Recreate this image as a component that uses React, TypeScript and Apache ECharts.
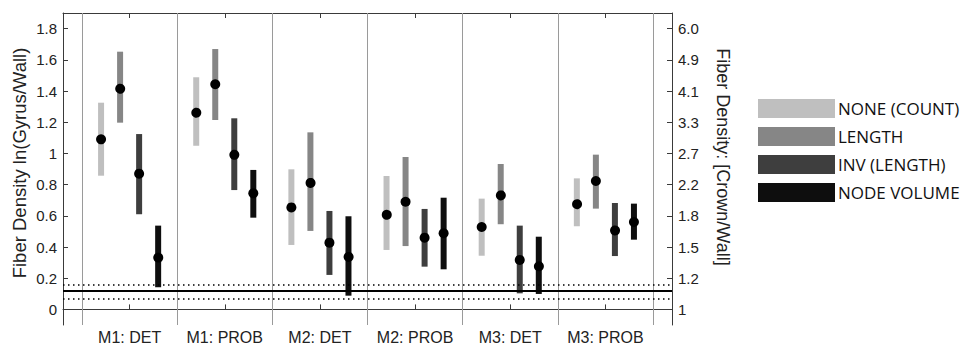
import React, { useEffect, useRef } from "react";
import * as echarts from "echarts";

const categories = ["M1: DET", "M1: PROB", "M2: DET", "M2: PROB", "M3: DET", "M3: PROB"];
const methods = ["NONE (COUNT)", "LENGTH", "INV (LENGTH)", "NODE VOLUME"];
const methodColors = ["#bfbfbf", "#868686", "#3e3e3e", "#0e0e0e"];
const methodOffsets = [-0.3, -0.1, 0.1, 0.3];

const meanNone = [1.09, 1.267, 0.654, 0.616, 0.528, 0.684];
const meanLength = [1.421, 1.443, 0.819, 0.69, 0.738, 0.823];
const meanInv = [0.87, 0.996, 0.428, 0.46, 0.317, 0.513];
const meanNode = [0.338, 0.744, 0.344, 0.488, 0.283, 0.56];

const lowNone = [0.857, 1.049, 0.413, 0.381, 0.344, 0.533];
const lowLength = [1.197, 1.214, 0.503, 0.406, 0.546, 0.646];
const lowInv = [0.61, 0.765, 0.221, 0.274, 0.103, 0.342];
const lowNode = [0.142, 0.588, 0.088, 0.257, 0.099, 0.447];

const highNone = [1.325, 1.488, 0.898, 0.855, 0.71, 0.84];
const highLength = [1.652, 1.669, 1.135, 0.977, 0.932, 0.992];
const highInv = [1.124, 1.225, 0.631, 0.644, 0.537, 0.682];
const highNode = [0.537, 0.894, 0.597, 0.716, 0.466, 0.678];

const leftTicks = [0, 0.2, 0.4, 0.6, 0.8, 1, 1.2, 1.4, 1.6, 1.8];
const rightTickLabels = ["1", "1.2", "1.5", "1.8", "2.2", "2.7", "3.3", "4.1", "4.9", "6.0"];
const xTicks = [1, 2, 3, 4, 5, 6];
const separators = [0.5, 1.5, 2.5, 3.5, 4.5, 5.5, 6.5];

const baseline = 0.117;
const ciLow = 0.068;
const ciHigh = 0.162;

const means = [meanNone, meanLength, meanInv, meanNode];
const lows = [lowNone, lowLength, lowInv, lowNode];
const highs = [highNone, highLength, highInv, highNode];

const FONT = "'Liberation Sans', Arial, Helvetica, sans-serif";
const FRAME = "#3a3a3a";

export default function App() {
  const ref = useRef<HTMLDivElement>(null);

  useEffect(() => {
    if (!ref.current) return;
    const chart = echarts.init(ref.current, null, { renderer: "svg" });

    const errorSeries = methods.map((name, mi) => ({
      name,
      type: "custom",
      z: 3,
      itemStyle: { color: methodColors[mi] },
      encode: { x: 0, y: 1 },
      data: categories.map((_, ci) => [ci + 1, means[mi][ci], lows[mi][ci], highs[mi][ci]]),
      renderItem: (params: any, api: any) => {
        const xv = api.value(0) + methodOffsets[mi];
        const pMean = api.coord([xv, api.value(1)]);
        const pLow = api.coord([xv, api.value(2)]);
        const pHigh = api.coord([xv, api.value(3)]);
        const w = 6;
        return {
          type: "group",
          children: [
            {
              type: "rect",
              shape: { x: pLow[0] - w / 2, y: pHigh[1], width: w, height: pLow[1] - pHigh[1] },
              style: { fill: methodColors[mi] },
            },
            {
              type: "circle",
              shape: { cx: pMean[0], cy: pMean[1], r: 5 },
              style: { fill: "#000" },
            },
          ],
        };
      },
    }));

    const option: any = {
      animation: false,
      backgroundColor: "#fff",
      grid: { left: 63, right: 295, top: 13, bottom: 20, containLabel: false },
      legend: {
        orient: "vertical",
        left: 758,
        top: 99,
        padding: 0,
        itemWidth: 77,
        itemHeight: 19,
        itemGap: 9,
        itemStyle: { borderWidth: 0 },
        selectedMode: false,
        textStyle: { fontFamily: "'Open Sans', sans-serif", fontSize: 17, color: "#111", padding: [0, 0, 4, -2] },
        data: methods.map((name) => ({ name, icon: "rect" })),
      },
      graphic: [
        {
          type: "text",
          x: 19,
          y: 163,
          rotation: Math.PI / 2,
          style: {
            text: "Fiber Density ln(Gyrus/Wall)",
            font: `18.5px ${FONT}`,
            fill: "#222",
            textAlign: "center",
            textVerticalAlign: "middle",
          },
        },
        {
          type: "text",
          x: 723,
          y: 157,
          rotation: -Math.PI / 2,
          style: {
            text: "Fiber Density: [Crown/Wall]",
            font: `18px ${FONT}`,
            fill: "#222",
            textAlign: "center",
            textVerticalAlign: "middle",
          },
        },
      ],
      xAxis: [
        {
          type: "value",
          position: "bottom",
          min: 0.3,
          max: 6.7,
          axisLine: { show: true, lineStyle: { color: FRAME, width: 1 } },
          axisTick: { show: true, inside: true, length: 5, customValues: xTicks, lineStyle: { color: FRAME } },
          axisLabel: {
            show: true,
            customValues: xTicks,
            formatter: (v: number) => categories[Math.round(v) - 1] ?? "",
            fontFamily: FONT,
            fontSize: 16,
            color: "#222",
            margin: 4,
          },
          splitLine: { show: false },
        },
        {
          type: "value",
          position: "top",
          min: 0.3,
          max: 6.7,
          axisLine: { show: true, onZero: false, lineStyle: { color: FRAME, width: 1 } },
          axisTick: { show: true, inside: true, length: 5, customValues: xTicks, lineStyle: { color: FRAME } },
          axisLabel: { show: false },
          splitLine: { show: false },
        },
      ],
      yAxis: [
        {
          type: "value",
          position: "left",
          min: -0.1,
          max: 1.9,
          axisLine: { show: true, onZero: false, lineStyle: { color: FRAME, width: 1 } },
          axisTick: { show: true, inside: true, length: 5, customValues: leftTicks, lineStyle: { color: FRAME } },
          axisLabel: {
            show: true,
            customValues: leftTicks,
            fontFamily: FONT,
            fontSize: 15,
            color: "#222",
            margin: 6,
          },
          splitLine: { show: false },
        },
        {
          type: "value",
          position: "right",
          min: -0.1,
          max: 1.9,
          axisLine: { show: true, onZero: false, lineStyle: { color: FRAME, width: 1 } },
          axisTick: { show: true, inside: true, length: 5, customValues: leftTicks, lineStyle: { color: FRAME } },
          axisLabel: {
            show: true,
            customValues: leftTicks,
            formatter: (v: number) => rightTickLabels[Math.round(v / 0.2)] ?? "",
            fontFamily: FONT,
            fontSize: 15,
            color: "#222",
            margin: 6,
          },
          splitLine: { show: false },
        },
      ],
      series: [
        {
          name: "__lines",
          type: "line",
          data: [],
          z: 1,
          silent: true,
          markLine: {
            silent: true,
            symbol: ["none", "none"],
            label: { show: false },
            animation: false,
            data: [
              ...separators.map((x) => ({ xAxis: x, lineStyle: { color: "#9a9a9a", width: 1, type: "solid" } })),
              { yAxis: baseline, lineStyle: { color: "#000", width: 2.2, type: "solid" } },
              { yAxis: ciLow, lineStyle: { color: "#000", width: 1.5, type: [1.5, 3.5] } },
              { yAxis: ciHigh, lineStyle: { color: "#000", width: 1.5, type: [1.5, 3.5] } },
            ],
          },
        },
        ...errorSeries,
      ],
    };

    chart.setOption(option);
    return () => chart.dispose();
  }, []);

  return <div ref={ref} style={{ width: 967, height: 345, position: "absolute", left: 0, top: 0 }} />;
}
